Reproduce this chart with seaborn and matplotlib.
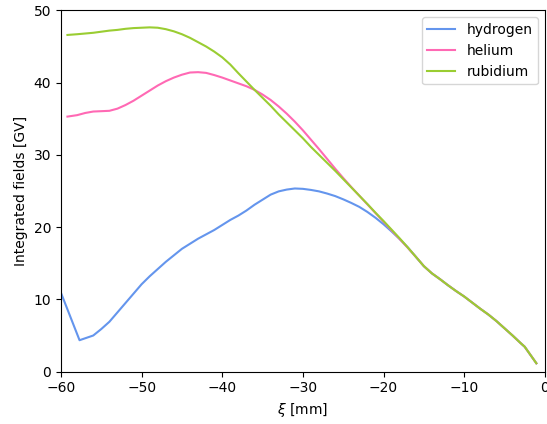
import matplotlib
matplotlib.use("Agg")
import matplotlib.pyplot as plt
import numpy as np
import pandas as pd
import seaborn as sns

# Integrated fields along the co-moving coordinate xi for three plasma species
species = ["hydrogen", "helium", "rubidium"]
colors = ["#6495ED", "#FF69B4", "#9ACD32"]

tail_xi = [-14, -13, -12, -11, -10, -9, -8, -7, -6, -5, -4, -3, -2.5, -1.05]
tail_field = [13.6, 12.8, 11.95, 11.15, 10.4, 9.55, 8.7, 7.9, 7.0, 6.0, 5.0, 3.95, 3.45, 1.16]

mid_xi = list(range(-57, -14))  # -57 ... -15

hydrogen_xi = [-60, -57.7] + mid_xi[1:] + tail_xi
hydrogen_field = [10.9, 4.35,
                  5.0, 5.9, 6.9, 8.2, 9.5, 10.8, 12.1, 13.2, 14.2, 15.2,
                  16.1, 17.0, 17.7, 18.4, 19.0, 19.6, 20.3, 21.0, 21.6, 22.3,
                  23.1, 23.8, 24.5, 24.95, 25.2, 25.35, 25.3, 25.15, 24.95, 24.65,
                  24.3, 23.85, 23.35, 22.8, 22.1, 21.3, 20.4, 19.4, 18.35, 17.2,
                  15.9, 14.6] + tail_field

helium_xi = [-59.2, -58] + mid_xi + tail_xi
helium_field = [35.3, 35.5,
                35.8, 36.0, 36.05, 36.1, 36.4, 36.9, 37.5, 38.2, 38.9, 39.6,
                40.2, 40.7, 41.1, 41.4, 41.45, 41.35, 41.05, 40.7, 40.3, 39.9,
                39.5, 39.0, 38.35, 37.6, 36.7, 35.7, 34.6, 33.4, 32.1, 30.8,
                29.45, 28.1, 26.8, 25.55, 24.35, 23.15, 21.95, 20.75, 19.55, 18.35,
                17.15, 15.9, 14.6] + tail_field

rubidium_xi = [-59.2, -58] + mid_xi + tail_xi
rubidium_field = [46.6, 46.7,
                  46.8, 46.9, 47.05, 47.2, 47.3, 47.45, 47.55, 47.6, 47.65, 47.6,
                  47.4, 47.1, 46.7, 46.2, 45.6, 45.0, 44.3, 43.5, 42.5, 41.3,
                  40.15, 39.0, 37.9, 36.8, 35.6, 34.5, 33.4, 32.3, 31.1, 30.0,
                  28.9, 27.8, 26.65, 25.5, 24.35, 23.2, 22.0, 20.85, 19.65, 18.45,
                  17.2, 15.9, 14.6] + tail_field

frames = []
for name, xs, ys in [("hydrogen", hydrogen_xi, hydrogen_field),
                     ("helium", helium_xi, helium_field),
                     ("rubidium", rubidium_xi, rubidium_field)]:
    frames.append(pd.DataFrame({"xi": xs, "field": ys, "species": name}))
data = pd.concat(frames, ignore_index=True)

fig = plt.figure(figsize=(5.47, 4.24), dpi=100)
ax = fig.add_axes([0.1115, 0.1235, 0.8845, 0.852])

sns.lineplot(data=data, x="xi", y="field", hue="species", hue_order=species,
             palette=colors, estimator=None, errorbar=None, linewidth=1.5, ax=ax)

ax.set_xlim(-60, 0)
ax.set_ylim(0, 50)
ax.set_xlabel(r"$\xi$ [mm]")
ax.set_ylabel("Integrated fields [GV]")
ax.legend(loc="upper right")

fig.savefig("out.png", dpi=100)
